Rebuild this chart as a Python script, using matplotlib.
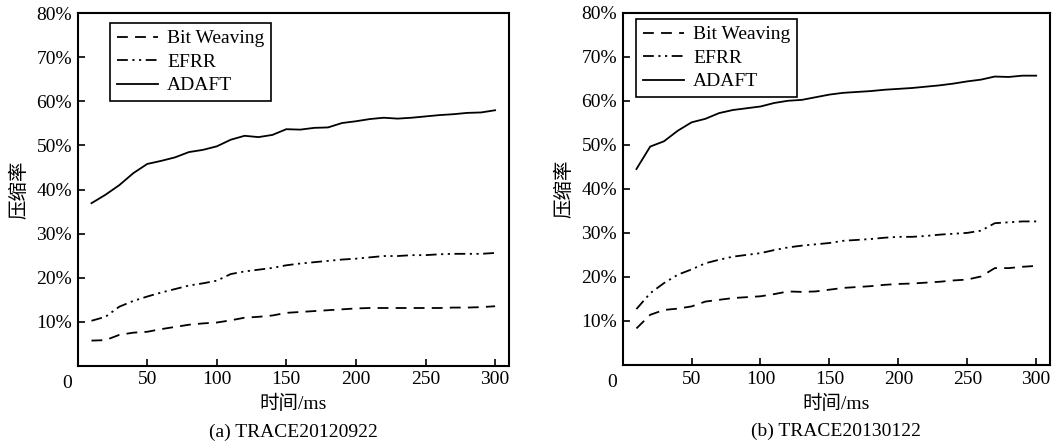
import matplotlib
matplotlib.use("Agg")
import matplotlib.pyplot as plt

plt.rcParams['font.family'] = ['Liberation Serif', 'Noto Sans CJK SC']
plt.rcParams['font.size'] = 14

time_ms = [10, 20, 30, 40, 50, 60, 70, 80, 90, 100, 110, 120, 130, 140, 150,
           160, 170, 180, 190, 200, 210, 220, 230, 240, 250, 260, 270, 280, 290, 300]

# (a) TRACE20120922
bw_a = [5.7, 5.8, 7.0, 7.5, 7.7, 8.3, 8.8, 9.3, 9.6, 9.8, 10.3, 10.9, 11.1, 11.4, 12.0,
        12.2, 12.4, 12.6, 12.8, 13.0, 13.1, 13.1, 13.1, 13.1, 13.1, 13.1, 13.2, 13.2, 13.3, 13.5]
efrr_a = [10.2, 11.1, 13.4, 14.7, 15.7, 16.6, 17.4, 18.2, 18.7, 19.3, 20.8, 21.4, 21.8, 22.2, 22.8,
          23.2, 23.5, 23.8, 24.1, 24.3, 24.6, 24.9, 24.9, 25.1, 25.1, 25.3, 25.4, 25.4, 25.4, 25.6]
adaft_a = [36.9, 38.8, 41.0, 43.7, 45.8, 46.5, 47.3, 48.5, 49.0, 49.8, 51.3, 52.2, 51.9, 52.4, 53.7,
           53.6, 54.0, 54.1, 55.1, 55.5, 56.0, 56.3, 56.1, 56.3, 56.6, 56.9, 57.1, 57.4, 57.5, 58.0]

# (b) TRACE20130122
bw_b = [8.3, 11.4, 12.5, 12.8, 13.3, 14.4, 14.8, 15.2, 15.4, 15.6, 16.1, 16.7, 16.6, 16.7, 17.1,
        17.5, 17.7, 17.9, 18.2, 18.4, 18.5, 18.7, 18.9, 19.2, 19.4, 20.1, 22.0, 22.0, 22.3, 22.5]
efrr_b = [12.7, 16.3, 18.6, 20.5, 21.7, 23.1, 23.9, 24.6, 25.0, 25.4, 26.1, 26.7, 27.1, 27.4, 27.7,
          28.2, 28.4, 28.6, 28.9, 29.1, 29.1, 29.3, 29.6, 29.8, 30.0, 30.5, 32.2, 32.4, 32.6, 32.6]
adaft_b = [44.5, 49.6, 50.8, 53.2, 55.1, 55.9, 57.2, 57.9, 58.3, 58.7, 59.5, 60.0, 60.2, 60.8, 61.4,
           61.8, 62.0, 62.2, 62.5, 62.7, 62.9, 63.2, 63.5, 63.9, 64.4, 64.8, 65.5, 65.4, 65.7, 65.7]

panels = [
    ("(a) TRACE20120922", bw_a, efrr_a, adaft_a, [0.0729, 0.1782, 0.4055, 0.7918], (0.075, 0.9725)),
    ("(b) TRACE20130122", bw_b, efrr_b, adaft_b, [0.5852, 0.1798, 0.4016, 0.7917], (0.031, 0.982)),
]

fig = plt.figure(figsize=(10.64, 4.45), dpi=100)

for caption, bw, efrr, adaft, rect, leg_pos in panels:
    ax = fig.add_axes(rect)
    ax.plot(time_ms, bw, color='black', lw=1.3, dashes=(6, 4), label='Bit Weaving')
    ax.plot(time_ms, efrr, color='black', lw=1.3, dashes=(6, 2.5, 1.2, 2.5, 1.2, 2.5), label='EFRR')
    ax.plot(time_ms, adaft, color='black', lw=1.3, label='ADAFT')

    ax.set_xlim(0, 310)
    ax.set_ylim(0, 80)
    ax.set_xticks([50, 100, 150, 200, 250, 300])
    ax.set_yticks([10, 20, 30, 40, 50, 60, 70, 80])
    ax.set_yticklabels([f"{v}%" for v in range(10, 90, 10)])
    ax.tick_params(direction='in', length=5, width=1.2, pad=4)
    ax.tick_params(axis='x', pad=4)
    for s in ax.spines.values():
        s.set_linewidth(1.5)
    ax.text(-0.025, -0.025, "0", transform=ax.transAxes, ha='center', va='top')

    ax.set_xlabel("时间/ms", labelpad=5)
    ax.set_ylabel("压缩率", labelpad=6)
    ax.text(0.5, -0.165, caption, transform=ax.transAxes, ha='center', va='top')

    leg = ax.legend(loc='upper left', bbox_to_anchor=leg_pos, borderaxespad=0,
                    fancybox=False, edgecolor='black', framealpha=1,
                    handlelength=2.1, handletextpad=0.5, labelspacing=0.3,
                    borderpad=0.35)
    leg.get_frame().set_linewidth(1.2)

fig.savefig("out.png", dpi=100)
